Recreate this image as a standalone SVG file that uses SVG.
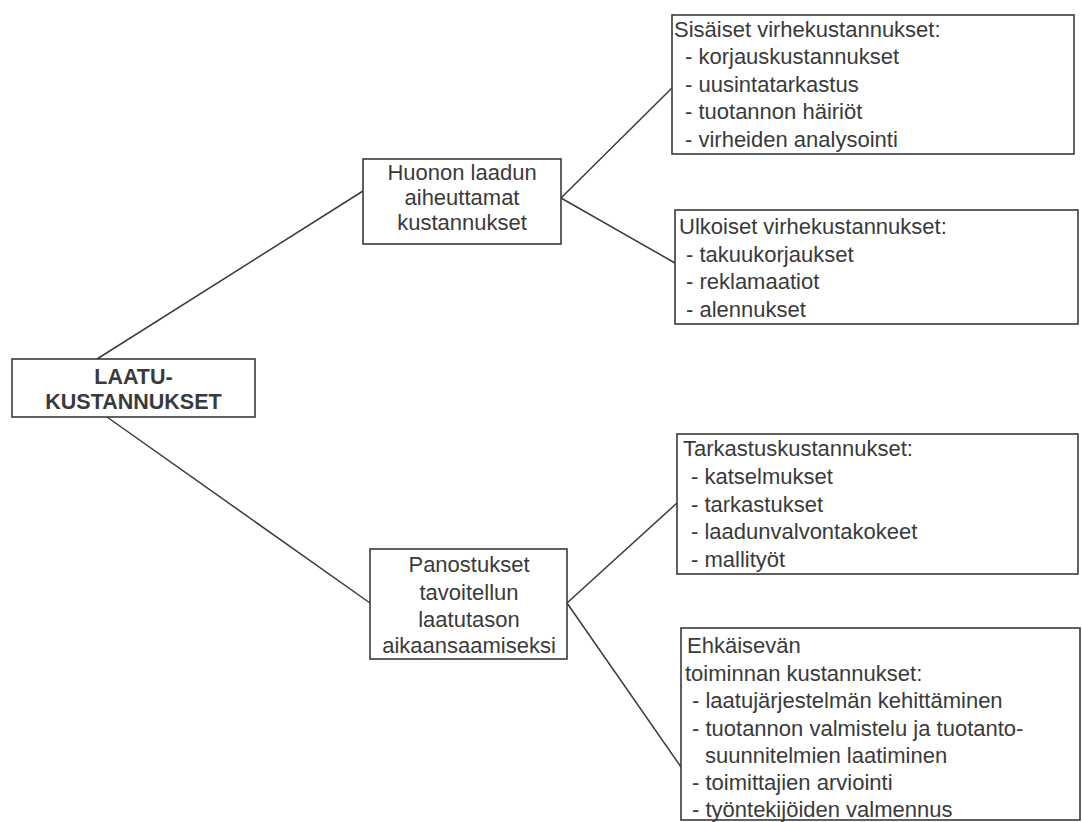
<svg xmlns="http://www.w3.org/2000/svg" width="1082" height="822" viewBox="0 0 1082 822">
<style>
.box{fill:#fff;stroke:#3a3a3a;stroke-width:1.6}
.t{font-family:"Liberation Sans",Arial,sans-serif;font-size:22px;fill:#3a3a3a}
.c{text-anchor:middle}
.b{font-weight:bold;font-size:21.5px}
.ln{stroke:#3a3a3a;stroke-width:1.5;fill:none}
</style>
<rect width="1082" height="822" fill="#fff"/>
<g id="connectors">
<line class="ln" x1="97" y1="359" x2="363" y2="191"/>
<line class="ln" x1="107" y1="417" x2="370" y2="603"/>
<line class="ln" x1="561" y1="198" x2="672" y2="88"/>
<line class="ln" x1="561" y1="198" x2="675" y2="263"/>
<line class="ln" x1="567" y1="603" x2="677" y2="503"/>
<line class="ln" x1="567" y1="603" x2="681" y2="767"/>
</g>
<g id="laatukustannukset">
<rect class="box" x="12" y="359" width="243" height="58"/>
<text class="t c b" x="133.5" y="384">LAATU-</text>
<text class="t c b" x="133.5" y="409">KUSTANNUKSET</text>
</g>
<g id="huonon">
<rect class="box" x="363" y="159" width="198" height="85"/>
<text class="t c" x="462" y="180">Huonon laadun</text>
<text class="t c" x="462" y="205">aiheuttamat</text>
<text class="t c" x="462" y="230">kustannukset</text>
</g>
<g id="panostukset">
<rect class="box" x="370" y="549" width="197" height="110"/>
<text class="t c" x="469" y="572">Panostukset</text>
<text class="t c" x="469" y="600">tavoitellun</text>
<text class="t c" x="469" y="627">laatutason</text>
<text class="t c" x="469" y="653">aikaansaamiseksi</text>
</g>
<g id="sisaiset">
<rect class="box" x="672" y="15" width="402" height="139"/>
<text class="t" x="674" y="37">Sisäiset virhekustannukset:</text>
<text class="t" x="685" y="64">- korjauskustannukset</text>
<text class="t" x="685" y="92">- uusintatarkastus</text>
<text class="t" x="685" y="119">- tuotannon häiriöt</text>
<text class="t" x="685" y="147">- virheiden analysointi</text>
</g>
<g id="ulkoiset">
<rect class="box" x="675" y="210" width="403" height="114"/>
<text class="t" x="679" y="234">Ulkoiset virhekustannukset:</text>
<text class="t" x="686" y="262">- takuukorjaukset</text>
<text class="t" x="686" y="289">- reklamaatiot</text>
<text class="t" x="686" y="317">- alennukset</text>
</g>
<g id="tarkastus">
<rect class="box" x="677" y="434" width="401" height="140"/>
<text class="t" x="683" y="456">Tarkastuskustannukset:</text>
<text class="t" x="691" y="484">- katselmukset</text>
<text class="t" x="691" y="512">- tarkastukset</text>
<text class="t" x="691" y="539">- laadunvalvontakokeet</text>
<text class="t" x="691" y="567">- mallityöt</text>
</g>
<g id="ehkaisevan">
<rect class="box" x="681" y="628" width="399" height="192"/>
<text class="t" x="687" y="653">Ehkäisevän</text>
<text class="t" x="685" y="681">toiminnan kustannukset:</text>
<text class="t" x="692" y="708">- laatujärjestelmän kehittäminen</text>
<text class="t" x="692" y="736">- tuotannon valmistelu ja tuotanto-</text>
<text class="t" x="705" y="763">suunnitelmien laatiminen</text>
<text class="t" x="692" y="790">- toimittajien arviointi</text>
<text class="t" x="692" y="817">- työntekijöiden valmennus</text>
</g>
</svg>
